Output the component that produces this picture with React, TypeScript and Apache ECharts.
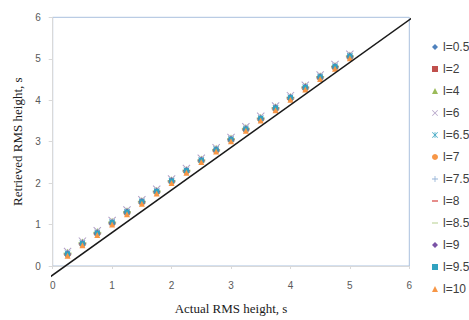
import React, { useEffect, useRef } from "react";
import * as echarts from "echarts";

const xValues = [0.25, 0.5, 0.75, 1, 1.25, 1.5, 1.75, 2, 2.25, 2.5, 2.75, 3, 3.25, 3.5, 3.75, 4, 4.25, 4.5, 4.75, 5];

const seriesNames = ["l=0.5", "l=2", "l=4", "l=6", "l=6.5", "l=7", "l=7.5", "l=8", "l=8.5", "l=9", "l=9.5", "l=10"];

const yL05 = [0.29, 0.54, 0.79, 1.04, 1.29, 1.54, 1.8, 2.04, 2.29, 2.54, 2.8, 3.05, 3.3, 3.55, 3.8, 4.05, 4.3, 4.55, 4.8, 5.05];
const yL2 = [0.28, 0.53, 0.79, 1.03, 1.28, 1.54, 1.79, 2.04, 2.29, 2.54, 2.79, 3.04, 3.29, 3.54, 3.79, 4.04, 4.29, 4.54, 4.79, 5.04];
const yL4 = [0.33, 0.58, 0.83, 1.08, 1.33, 1.58, 1.83, 2.08, 2.33, 2.58, 2.84, 3.09, 3.34, 3.59, 3.84, 4.09, 4.34, 4.59, 4.84, 5.09];
const yL6 = [0.35, 0.6, 0.85, 1.1, 1.35, 1.6, 1.85, 2.1, 2.35, 2.6, 2.85, 3.1, 3.36, 3.61, 3.86, 4.11, 4.36, 4.61, 4.86, 5.11];
const yL65 = [0.31, 0.56, 0.81, 1.06, 1.31, 1.56, 1.81, 2.06, 2.31, 2.56, 2.82, 3.07, 3.32, 3.57, 3.82, 4.07, 4.32, 4.57, 4.82, 5.07];
const yL7 = [0.26, 0.51, 0.76, 1.01, 1.26, 1.51, 1.76, 2.01, 2.27, 2.52, 2.77, 3.02, 3.27, 3.52, 3.77, 4.02, 4.27, 4.52, 4.77, 5.02];
const yL75 = [0.31, 0.56, 0.81, 1.06, 1.31, 1.56, 1.81, 2.06, 2.31, 2.57, 2.82, 3.07, 3.32, 3.57, 3.82, 4.07, 4.32, 4.57, 4.82, 5.07];
const yL8 = [0.27, 0.52, 0.77, 1.02, 1.27, 1.52, 1.78, 2.03, 2.28, 2.53, 2.78, 3.03, 3.28, 3.53, 3.78, 4.03, 4.28, 4.53, 4.78, 5.03];
const yL85 = [0.3, 0.55, 0.8, 1.05, 1.3, 1.55, 1.8, 2.05, 2.3, 2.55, 2.8, 3.06, 3.31, 3.56, 3.81, 4.06, 4.31, 4.56, 4.81, 5.06];
const yL9 = [0.29, 0.54, 0.79, 1.04, 1.3, 1.55, 1.8, 2.05, 2.3, 2.55, 2.8, 3.05, 3.3, 3.55, 3.81, 4.06, 4.31, 4.56, 4.81, 5.06];
const yL95 = [0.29, 0.54, 0.79, 1.05, 1.3, 1.55, 1.8, 2.05, 2.3, 2.55, 2.8, 3.05, 3.3, 3.56, 3.81, 4.06, 4.31, 4.56, 4.81, 5.06];
const yL10 = [0.25, 0.5, 0.75, 1.0, 1.25, 1.5, 1.75, 2.0, 2.25, 2.51, 2.76, 3.01, 3.26, 3.51, 3.76, 4.01, 4.26, 4.51, 4.76, 5.01];

const seriesY = [yL05, yL2, yL4, yL6, yL65, yL7, yL75, yL8, yL85, yL9, yL95, yL10];

// Reference line drawn on the chart (data coordinates of its two ends)
const refLineX = [-0.1, 6.06];
const refLineY = [-0.32, 6.0];

const xTicks = [0, 1, 2, 3, 4, 5, 6];

const X_PATH = "path://M0,0.9 L0.9,0 L5,4.1 L9.1,0 L10,0.9 L5.9,5 L10,9.1 L9.1,10 L5,5.9 L0.9,10 L0,9.1 L4.1,5 Z";
const STAR_PATH = "path://M0,0.9 L0.9,0 L5,4.1 L9.1,0 L10,0.9 L5.9,5 L10,9.1 L9.1,10 L5,5.9 L0.9,10 L0,9.1 L4.1,5 Z M4.4,0 L5.6,0 L5.6,10 L4.4,10 Z";
const PLUS_PATH = "path://M4.3,0 L5.7,0 L5.7,4.3 L10,4.3 L10,5.7 L5.7,5.7 L5.7,10 L4.3,10 L4.3,5.7 L0,5.7 L0,4.3 L4.3,4.3 Z";
const DASH_PATH = "path://M0,0 L10,0 L10,2.2 L0,2.2 Z";
const LONG_DASH_PATH = "path://M0,0 L14,0 L14,2 L0,2 Z";

const styles = [
  { symbol: "diamond", size: 5, color: "#4f81bd" },
  { symbol: "rect", size: 5, color: "#c0504d" },
  { symbol: "triangle", size: 7, color: "#9bbb59" },
  { symbol: X_PATH, size: 8, color: "#b3a2c7" },
  { symbol: STAR_PATH, size: 6, color: "#4bacc6" },
  { symbol: "circle", size: 5, color: "#f79646" },
  { symbol: PLUS_PATH, size: 5, color: "#95b3d7" },
  { symbol: DASH_PATH, size: [6, 2], color: "#d9534f" },
  { symbol: LONG_DASH_PATH, size: [8, 2], color: "#a9c77a" },
  { symbol: "diamond", size: 7, color: "#7a52a6" },
  { symbol: "rect", size: 5, color: "#31a2c0" },
  { symbol: "triangle", size: 6, color: "#f79646" },
];

export default function App() {
  const ref = useRef<HTMLDivElement>(null);
  useEffect(() => {
    if (!ref.current) return;
    const chart = echarts.init(ref.current, null, { renderer: "svg" });
    const scatterSeries = seriesNames.map((name, i) => ({
      name,
      type: "scatter",
      data: xValues.map((x, j) => [x, seriesY[i][j]]),
      symbol: styles[i].symbol,
      symbolSize: styles[i].size,
      itemStyle: { color: styles[i].color, opacity: 1 },
      z: 2 + i,
    }));
    chart.setOption({
      animation: false,
      backgroundColor: "#ffffff",
      grid: {
        left: 52.7,
        right: 59.7,
        top: 17.3,
        bottom: 51.7,
        show: true,
        borderColor: "#a9c0de",
        borderWidth: 1,
        backgroundColor: "transparent",
      },
      legend: {
        data: seriesNames,
        orient: "vertical",
        left: 432,
        top: 41,
        itemWidth: 6,
        itemHeight: 6,
        itemGap: 10,
        symbolKeepAspect: true,
        padding: 0,
        textStyle: { fontFamily: "Liberation Sans", fontSize: 12, color: "#404040" },
      },
      xAxis: {
        type: "value",
        min: 0,
        max: 6,
        interval: 1,
        name: "Actual RMS height, s",
        nameLocation: "middle",
        nameGap: 36,
        nameTextStyle: { fontFamily: "Liberation Serif", fontSize: 13, color: "#1a1a1a" },
        axisLine: { show: true, onZero: false, lineStyle: { color: "#d9d9d9", width: 1 } },
        axisTick: { show: true, length: 3, lineStyle: { color: "#d9d9d9" } },
        axisLabel: {
          margin: 14,
          fontFamily: "Liberation Sans",
          fontSize: 10,
          color: "#595959",
          formatter: (v: number) => (xTicks.includes(v) ? String(v) : ""),
        },
        splitLine: { show: false },
      },
      yAxis: {
        type: "value",
        min: 0,
        max: 6,
        interval: 1,
        name: "Retrieved RMS height, s",
        nameLocation: "middle",
        nameGap: 29,
        nameRotate: 90,
        nameTextStyle: { fontFamily: "Liberation Serif", fontSize: 13, color: "#1a1a1a" },
        axisLine: { show: true, onZero: false, lineStyle: { color: "#d9d9d9", width: 1 } },
        axisTick: { show: true, length: 4, lineStyle: { color: "#d9d9d9" } },
        axisLabel: {
          margin: 12,
          fontFamily: "Liberation Sans",
          fontSize: 10,
          color: "#595959",
        },
        splitLine: { show: false },
      },
      series: [
        ...scatterSeries,
        {
          name: "ref",
          type: "line",
          data: refLineX.map((x, i) => [x, refLineY[i]]),
          symbol: "none",
          clip: false,
          silent: true,
          lineStyle: { color: "#1a1a1a", width: 1.6 },
          z: 20,
        },
      ],
    });
    return () => chart.dispose();
  }, []);
  return <div ref={ref} style={{ width: 469, height: 320, position: "absolute", left: 0, top: 0 }} />;
}
